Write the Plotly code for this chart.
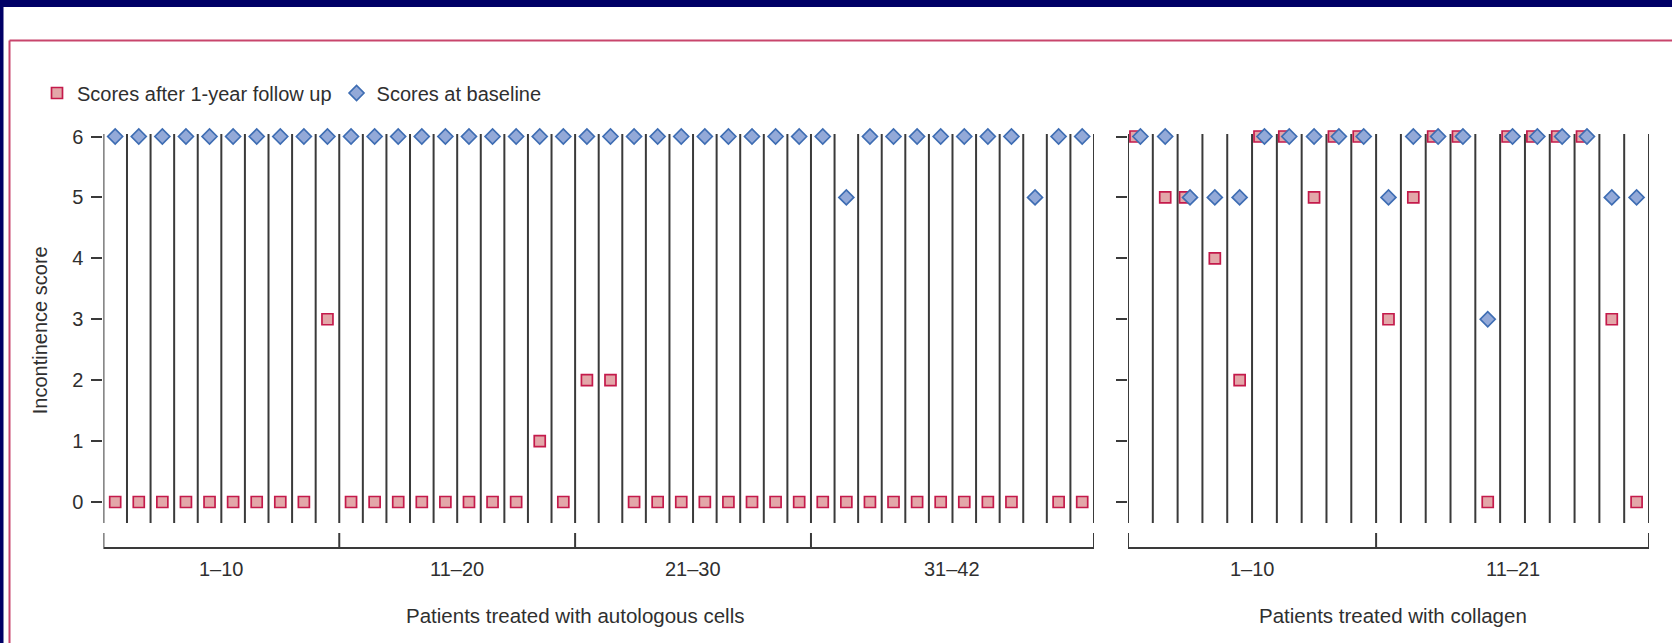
import plotly.graph_objects as go

# ---------------- data ----------------
auto_patients = list(range(1, 43))
auto_baseline = [6, 6, 6, 6, 6, 6, 6, 6, 6, 6,
                 6, 6, 6, 6, 6, 6, 6, 6, 6, 6,
                 6, 6, 6, 6, 6, 6, 6, 6, 6, 6,
                 6, 5, 6, 6, 6, 6, 6, 6, 6, 5, 6, 6]
auto_followup = [0, 0, 0, 0, 0, 0, 0, 0, 0, 3,
                 0, 0, 0, 0, 0, 0, 0, 0, 1, 0,
                 2, 2, 0, 0, 0, 0, 0, 0, 0, 0,
                 0, 0, 0, 0, 0, 0, 0, 0, 0, None, 0, 0]

coll_patients = list(range(1, 22))
coll_baseline = [6, 6, 5, 5, 5, 6, 6, 6, 6, 6,
                 5, 6, 6, 6, 3, 6, 6, 6, 6, 5, 5]
coll_followup = [6, 5, 5, 4, 2, 6, 6, 5, 6, 6,
                 3, 5, 6, 6, 0, 6, 6, 6, 6, 3, 0]

auto_group_labels = ["1–10", "11–20", "21–30", "31–42"]
auto_group_edges = [0.5, 10.5, 20.5, 30.5, 42.5]
coll_group_labels = ["1–10", "11–21"]
coll_group_edges = [0.5, 10.5, 21.5]
score_ticks = [0, 1, 2, 3, 4, 5, 6]

series_names = ["Scores after 1-year follow up", "Scores at baseline"]
auto_title = "Patients treated with autologous cells"
coll_title = "Patients treated with collagen"
y_title = "Incontinence score"

# ---------------- geometry / style ----------------
W, H = 1672, 643
FONT = "Liberation Sans, Arial, sans-serif"
TXT = "#2f2f2f"
LINE = "#3a3a3a"
SQ_FILL, SQ_LINE = "#e3a7a9", "#c41a4b"
DI_FILL, DI_LINE = "#93a9d8", "#3e6db3"


def px_x(p):
    return p / W


def px_y(p):
    return 1 - p / H


x1_dom = [px_x(103.4), px_x(1094)]
x2_dom = [px_x(1128), px_x(1649)]
y_range = [-2.0, 6.5]
unit = (502 - 136.5) / 6
y_top_px = 136.5 - (y_range[1] - 6) * unit
y_bot_px = 502 + (0 - y_range[0]) * unit
y_dom = [px_y(y_bot_px), px_y(y_top_px)]

LINE_TOP, LINE_BOT = 6.04, -0.345
BR_TOP, BR_BOT = -0.51, -0.755
LABEL_Y, TITLE_Y = -1.1, -1.855

sq_marker = dict(symbol="square", size=11, color=SQ_FILL, line=dict(color=SQ_LINE, width=1.7))
di_marker = dict(symbol="diamond", size=11.5, color=DI_FILL, line=dict(color=DI_LINE, width=1.7))

# square is nudged left when it coincides with the diamond (as in the original)
coll_fu_x = [p - 0.2 if f == b else p for p, f, b in zip(coll_patients, coll_followup, coll_baseline)]

fig = go.Figure()
fig.add_trace(go.Scatter(x=auto_patients, y=auto_followup, mode="markers", marker=sq_marker,
                         name=series_names[0], legendgroup="fu", xaxis="x", yaxis="y"))
fig.add_trace(go.Scatter(x=coll_fu_x, y=coll_followup, mode="markers", marker=sq_marker,
                         name=series_names[0], legendgroup="fu", showlegend=False,
                         xaxis="x2", yaxis="y2"))
fig.add_trace(go.Scatter(x=auto_patients, y=auto_baseline, mode="markers", marker=di_marker,
                         name=series_names[1], legendgroup="bl", xaxis="x", yaxis="y"))
fig.add_trace(go.Scatter(x=coll_patients, y=coll_baseline, mode="markers", marker=di_marker,
                         name=series_names[1], legendgroup="bl", showlegend=False,
                         xaxis="x2", yaxis="y2"))

shapes = []
# frame
shapes.append(dict(type="rect", xref="paper", yref="paper", x0=0, x1=1, y0=px_y(7), y1=1,
                   fillcolor="#000066", line=dict(width=0), layer="above"))
shapes.append(dict(type="rect", xref="paper", yref="paper", x0=0, x1=px_x(3.5), y0=0, y1=1,
                   fillcolor="#000066", line=dict(width=0), layer="above"))
shapes.append(dict(type="line", xref="paper", yref="paper", x0=px_x(9.5), x1=1,
                   y0=px_y(40.5), y1=px_y(40.5), line=dict(color="#c8456c", width=2)))
shapes.append(dict(type="line", xref="paper", yref="paper", x0=px_x(9.5), x1=px_x(9.5),
                   y0=0, y1=px_y(40.5), line=dict(color="#c8456c", width=2)))


def panel_shapes(xref, yref, n, edges):
    out = []
    for k in range(n + 1):
        b = 0.5 + k
        out.append(dict(type="line", xref=xref, yref=yref, x0=b, x1=b, y0=LINE_BOT, y1=LINE_TOP,
                        line=dict(color=LINE, width=2), layer="below"))
    path = f"M {edges[0]},{BR_TOP} L {edges[0]},{BR_BOT} L {edges[-1]},{BR_BOT} L {edges[-1]},{BR_TOP}"
    out.append(dict(type="path", xref=xref, yref=yref, path=path, line=dict(color=LINE, width=2)))
    for e in edges[1:-1]:
        out.append(dict(type="line", xref=xref, yref=yref, x0=e, x1=e, y0=BR_BOT, y1=BR_TOP,
                        line=dict(color=LINE, width=2)))
    return out


shapes += panel_shapes("x", "y", len(auto_patients), auto_group_edges)
shapes += panel_shapes("x2", "y2", len(coll_patients), coll_group_edges)

afont = dict(size=20, color=TXT, family=FONT)
annotations = []
for lab, a, b in zip(auto_group_labels, auto_group_edges[:-1], auto_group_edges[1:]):
    annotations.append(dict(xref="x", yref="y", x=(a + b) / 2, y=LABEL_Y, text=lab, showarrow=False,
                            xanchor="center", yanchor="middle", font=afont))
for lab, a, b in zip(coll_group_labels, coll_group_edges[:-1], coll_group_edges[1:]):
    annotations.append(dict(xref="x2", yref="y2", x=(a + b) / 2, y=LABEL_Y, text=lab, showarrow=False,
                            xanchor="center", yanchor="middle", font=afont))
annotations.append(dict(xref="x", yref="y", x=20.5, y=TITLE_Y, text=auto_title, showarrow=False,
                        xanchor="center", yanchor="middle", font=dict(size=20.5, color=TXT, family=FONT)))
annotations.append(dict(xref="x2", yref="y2", x=11.2, y=TITLE_Y, text=coll_title, showarrow=False,
                        xanchor="center", yanchor="middle", font=dict(size=20.5, color=TXT, family=FONT)))
annotations.append(dict(xref="paper", yref="y", x=px_x(40), y=2.82, text=y_title, showarrow=False,
                        xanchor="center", yanchor="middle", textangle=-90, font=afont))

xcommon = dict(showgrid=False, zeroline=False, showline=False, showticklabels=False, ticks="")
ycommon = dict(showgrid=False, zeroline=False, showline=False, range=y_range, domain=y_dom,
               tickvals=score_ticks, ticks="outside", ticklen=11, tickwidth=2, tickcolor=LINE)

fig.update_layout(
    width=W, height=H,
    margin=dict(l=0, r=0, t=0, b=0),
    paper_bgcolor="white", plot_bgcolor="rgba(0,0,0,0)",
    font=dict(family=FONT, color=TXT, size=20),
    xaxis=dict(domain=x1_dom, range=[0.5, 42.5], anchor="y", **xcommon),
    xaxis2=dict(domain=x2_dom, range=[0.5, 21.5], anchor="y2", **xcommon),
    yaxis=dict(anchor="x", showticklabels=True, ticklabelstandoff=4,
               tickfont=dict(size=20, color=TXT, family=FONT), **ycommon),
    yaxis2=dict(anchor="x2", showticklabels=False, **ycommon),
    showlegend=True,
    legend=dict(orientation="h", x=px_x(37), xanchor="left", y=px_y(93), yanchor="middle",
                font=dict(size=20, color=TXT, family=FONT), bgcolor="rgba(0,0,0,0)",
                borderwidth=0, itemclick=False, itemdoubleclick=False),
    shapes=shapes,
    annotations=annotations,
)

fig.write_html("out.html")
